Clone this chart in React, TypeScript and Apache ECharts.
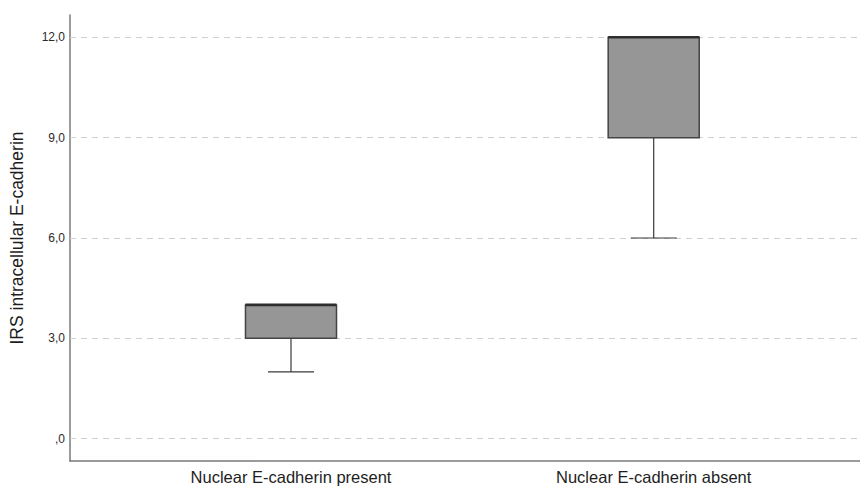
import React, { useEffect, useRef } from "react";
import * as echarts from "echarts";

const categories = ["Nuclear E-cadherin present", "Nuclear E-cadherin absent"];
const minVals = [2, 6];
const q1Vals = [3, 9];
const medianVals = [4, 12];
const q3Vals = [4, 12];
const maxVals = [4, 12];
const yTicks = [0, 3, 6, 9, 12];
const yTitle = "IRS intracellular E-cadherin";

export default function App() {
  const ref = useRef<HTMLDivElement>(null);
  useEffect(() => {
    if (!ref.current) return;
    const chart = echarts.init(ref.current, undefined, { renderer: "svg" });
    const data = categories.map((_, i) => [
      i + 1,
      minVals[i],
      q1Vals[i],
      medianVals[i],
      q3Vals[i],
      maxVals[i],
    ]);
    const fmtY = (v: number) => (v === 0 ? ",0" : v.toFixed(1).replace(".", ","));
    chart.setOption({
      animation: false,
      backgroundColor: "#ffffff",
      textStyle: { fontFamily: "Liberation Sans, Arial, sans-serif" },
      grid: { left: 70, right: 0, top: 15, bottom: 25, containLabel: false },
      xAxis: {
        type: "value",
        min: 0.3907,
        max: 2.5688,
        axisLine: { show: true, onZero: false, lineStyle: { color: "#7a7a7a", width: 1.5 } },
        axisTick: { show: false },
        splitLine: { show: false },
        axisLabel: {
          customValues: [1, 2],
          formatter: (v: number) => categories[Math.round(v) - 1] ?? "",
          fontSize: 16.5,
          color: "#1e1e1e",
          margin: 7,
          showMinLabel: true,
          showMaxLabel: true,
        },
      },
      yAxis: {
        type: "value",
        min: -0.667,
        max: 12.667,
        name: yTitle,
        nameLocation: "middle",
        nameGap: 44,
        nameTextStyle: { fontSize: 17.5, color: "#1e1e1e" },
        axisLine: { show: true, onZero: false, lineStyle: { color: "#7a7a7a", width: 1.5 } },
        axisTick: { show: false },
        splitLine: { show: false },
        axisLabel: {
          customValues: yTicks,
          formatter: fmtY,
          fontSize: 12,
          color: "#2a2a2a",
          margin: 5,
        },
      },
      series: [
        {
          type: "line",
          data: [],
          silent: true,
          z: 1,
          markLine: {
            silent: true,
            symbol: "none",
            z: 1,
            label: { show: false },
            lineStyle: { color: "#cfcfcf", type: [6, 5], width: 1 },
            data: yTicks.map((v) => ({ yAxis: v })),
          },
        },
        {
          type: "custom",
          z: 10,
          data,
          renderItem: (params: any, api: any) => {
            const x = api.value(0);
            const vMin = api.value(1);
            const vQ1 = api.value(2);
            const vMed = api.value(3);
            const vQ3 = api.value(4);
            const vMax = api.value(5);
            const unit = api.size([1, 0])[0];
            const boxW = unit * 0.251;
            const capW = unit * 0.127;
            const pMin = api.coord([x, vMin]);
            const pQ1 = api.coord([x, vQ1]);
            const pMed = api.coord([x, vMed]);
            const pQ3 = api.coord([x, vQ3]);
            const pMax = api.coord([x, vMax]);
            const cx = pMed[0];
            const lineStyle = { stroke: "#3a3a3a", lineWidth: 1.2 };
            const children: any[] = [];
            if (vMin < vQ1) {
              children.push({
                type: "line",
                shape: { x1: cx, y1: pQ1[1], x2: cx, y2: pMin[1] },
                style: lineStyle,
              });
              children.push({
                type: "line",
                shape: { x1: cx - capW / 2, y1: pMin[1], x2: cx + capW / 2, y2: pMin[1] },
                style: lineStyle,
              });
            }
            if (vMax > vQ3) {
              children.push({
                type: "line",
                shape: { x1: cx, y1: pQ3[1], x2: cx, y2: pMax[1] },
                style: lineStyle,
              });
              children.push({
                type: "line",
                shape: { x1: cx - capW / 2, y1: pMax[1], x2: cx + capW / 2, y2: pMax[1] },
                style: lineStyle,
              });
            }
            children.push({
              type: "rect",
              shape: { x: cx - boxW / 2, y: pQ3[1], width: boxW, height: pQ1[1] - pQ3[1] },
              style: { fill: "#969696", stroke: "#444", lineWidth: 1.5 },
            });
            children.push({
              type: "line",
              shape: { x1: cx - boxW / 2, y1: pMed[1], x2: cx + boxW / 2, y2: pMed[1] },
              style: { stroke: "#2e2e2e", lineWidth: 2.6 },
            });
            return { type: "group", children };
          },
        },
      ],
    });
    return () => chart.dispose();
  }, []);
  return <div ref={ref} style={{ width: 860, height: 486, position: "absolute", left: 0, top: 0 }} />;
}
